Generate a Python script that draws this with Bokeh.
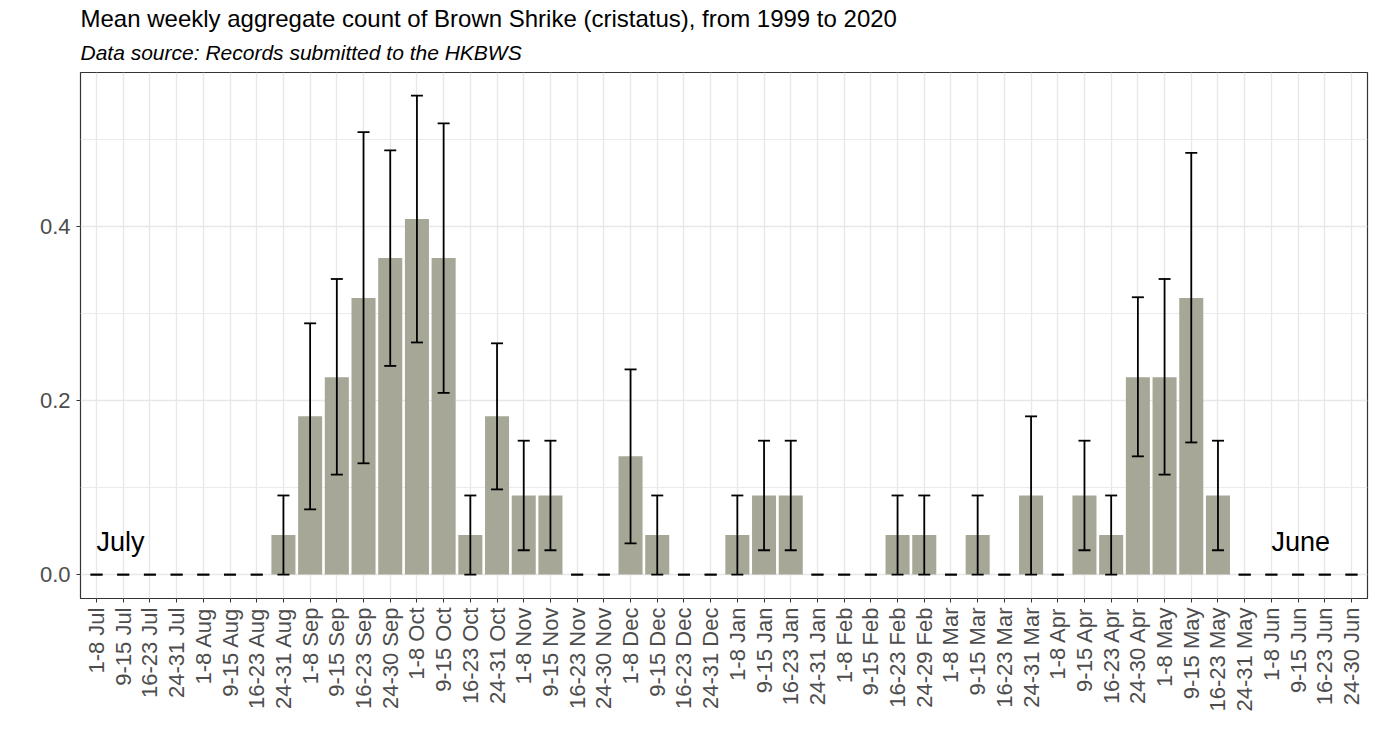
import math
from bokeh.plotting import figure
from bokeh.models import (ColumnDataSource, FactorRange, Range1d, FixedTicker,
                          PrintfTickFormatter, Whisker, TeeHead, Title)
from bokeh.core.properties import value
from bokeh.embed import file_html
from bokeh.resources import INLINE

weeks = ["1-8 Jul", "9-15 Jul", "16-23 Jul", "24-31 Jul",
         "1-8 Aug", "9-15 Aug", "16-23 Aug", "24-31 Aug",
         "1-8 Sep", "9-15 Sep", "16-23 Sep", "24-30 Sep",
         "1-8 Oct", "9-15 Oct", "16-23 Oct", "24-31 Oct",
         "1-8 Nov", "9-15 Nov", "16-23 Nov", "24-30 Nov",
         "1-8 Dec", "9-15 Dec", "16-23 Dec", "24-31 Dec",
         "1-8 Jan", "9-15 Jan", "16-23 Jan", "24-31 Jan",
         "1-8 Feb", "9-15 Feb", "16-23 Feb", "24-29 Feb",
         "1-8 Mar", "9-15 Mar", "16-23 Mar", "24-31 Mar",
         "1-8 Apr", "9-15 Apr", "16-23 Apr", "24-30 Apr",
         "1-8 May", "9-15 May", "16-23 May", "24-31 May",
         "1-8 Jun", "9-15 Jun", "16-23 Jun", "24-30 Jun"]

mean_count = [0, 0, 0, 0, 0, 0, 0, 0.0455,
              0.182, 0.227, 0.318, 0.364, 0.409, 0.364, 0.0455, 0.182,
              0.091, 0.091, 0, 0, 0.136, 0.0455, 0, 0,
              0.0455, 0.091, 0.091, 0, 0, 0, 0.0455, 0.0455,
              0, 0.0455, 0, 0.091, 0, 0.091, 0.0455, 0.227,
              0.227, 0.318, 0.091, 0, 0, 0, 0, 0]

err_low = [0, 0, 0, 0, 0, 0, 0, 0,
           0.075, 0.115, 0.128, 0.240, 0.267, 0.209, 0, 0.098,
           0.028, 0.028, 0, 0, 0.036, 0, 0, 0,
           0, 0.028, 0.028, 0, 0, 0, 0, 0,
           0, 0, 0, 0, 0, 0.028, 0, 0.136,
           0.115, 0.152, 0.028, 0, 0, 0, 0, 0]

err_high = [0, 0, 0, 0, 0, 0, 0, 0.091,
            0.289, 0.340, 0.509, 0.488, 0.551, 0.519, 0.091, 0.266,
            0.154, 0.154, 0, 0, 0.236, 0.091, 0, 0,
            0.091, 0.154, 0.154, 0, 0, 0, 0.091, 0.091,
            0, 0.091, 0, 0.182, 0, 0.154, 0.091, 0.319,
            0.340, 0.485, 0.154, 0, 0, 0, 0, 0]

y_ticks = [0.0, 0.2, 0.4]
y_minor = [0.1, 0.3, 0.5]

season_labels = ["July", "June"]
season_x = ["1-8 Jul", "1-8 Jun"]
season_y = [0.037, 0.037]

title_text = "Mean weekly aggregate count of Brown Shrike (cristatus), from 1999 to 2020"
subtitle_text = "Data source: Records submitted to the HKBWS"

FONT = "Liberation Sans"

source = ColumnDataSource(dict(week=weeks, mean=mean_count, lower=err_low, upper=err_high))

p = figure(x_range=FactorRange(*weeks, range_padding=0.1, range_padding_units="absolute"),
           y_range=Range1d(-0.0275, 0.5775),
           width=1370, height=743, output_backend="svg", toolbar_location=None,
           min_border_left=80, min_border_right=3, min_border_top=72, min_border_bottom=145)

p.add_layout(Title(text=subtitle_text, text_font=FONT, text_font_size="21px",
                   text_font_style="italic", text_color="black", standoff=17), "above")
p.add_layout(Title(text=title_text, text_font=FONT, text_font_size="24px",
                   text_font_style="normal", text_color="black", standoff=-2), "above")

p.background_fill_color = "white"
p.border_fill_color = "white"
p.outline_line_color = "#333333"
p.outline_line_width = 1.2

p.vbar(x="week", top="mean", bottom=0, width=0.9, source=source,
       fill_color="#a6a797", line_color=None)

whisk = Whisker(base="week", upper="upper", lower="lower", source=source,
                level="overlay",
                line_color="black", line_width=1.8,
                upper_head=TeeHead(size=12, line_color="black", line_width=1.8),
                lower_head=TeeHead(size=12, line_color="black", line_width=1.8))
p.add_layout(whisk)

p.text(x=season_x, y=season_y, text=season_labels, text_align="left",
       text_baseline="alphabetic", text_font=value(FONT), text_font_size="27px",
       text_color="black")

# y axis
p.yaxis.ticker = FixedTicker(ticks=y_ticks, minor_ticks=y_minor)
p.yaxis.formatter = PrintfTickFormatter(format="%.1f")
p.yaxis.major_label_text_font = FONT
p.yaxis.major_label_text_font_size = "22px"
p.yaxis.major_label_text_color = "#4d4d4d"
p.yaxis.axis_line_color = None
p.yaxis.major_tick_line_color = "#333333"
p.yaxis.major_tick_out = 4
p.yaxis.major_tick_in = 0
p.yaxis.minor_tick_line_color = None
p.yaxis.major_label_standoff = 6

# x axis
p.xaxis.major_label_orientation = math.pi / 2
p.xaxis.major_label_text_font = FONT
p.xaxis.major_label_text_font_size = "22px"
p.xaxis.major_label_text_color = "#4d4d4d"
p.xaxis.axis_line_color = None
p.xaxis.major_tick_line_color = "#333333"
p.xaxis.major_tick_out = 4
p.xaxis.major_tick_in = 0
p.xaxis.minor_tick_line_color = None
p.xaxis.major_label_standoff = 5

# grid
p.xgrid.grid_line_color = "#e8e8e8"
p.xgrid.grid_line_width = 1.4
p.ygrid.grid_line_color = "#e8e8e8"
p.ygrid.grid_line_width = 1.4
p.ygrid.minor_grid_line_color = "#ebebeb"
p.ygrid.minor_grid_line_width = 1.0

open("out.html", "w").write(file_html(p, INLINE))
